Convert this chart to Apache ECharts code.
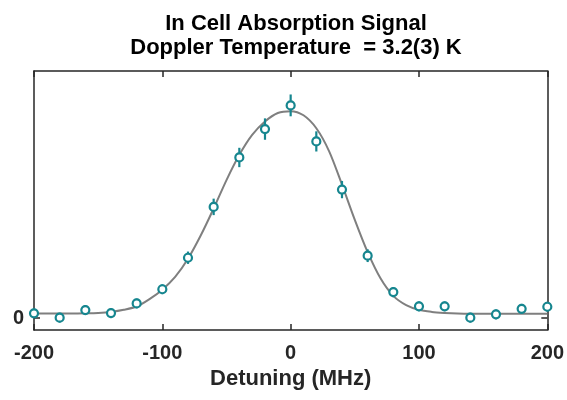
<!DOCTYPE html>
<html><head><meta charset="utf-8">
<script src="https://cdn.jsdelivr.net/npm/echarts@6/dist/echarts.min.js"></script>
<style>html,body{margin:0;padding:0;background:#fff}#c{width:567px;height:400px}</style>
</head><body><div id="c"></div>
<script>
const titleLines = ["In Cell Absorption Signal", "Doppler Temperature  = 3.2(3) K"];
const xAxisName = "Detuning (MHz)";
const xTicks = [-200, -100, 0, 100, 200];
const yTicks = [0];

const dataX = [-200,-180,-160,-140,-120,-100,-80,-60,-40,-20,0,20,40,60,80,100,120,140,160,180,200];
const dataY = [0.023,0.002,0.039,0.024,0.071,0.140,0.293,0.540,0.780,0.918,1.033,0.858,0.624,0.303,0.126,0.057,0.057,0.002,0.018,0.045,0.055];
const dataErr = [0.024,0.024,0.024,0.024,0.024,0.024,0.030,0.040,0.047,0.052,0.053,0.049,0.042,0.031,0.025,0.024,0.024,0.024,0.024,0.024,0.024];

const fitX = [-200,-190,-180,-170,-160,-150,-140,-130,-120,-110,-100,-90,-80,-70,-60,-50,-40,-30,-20,-10,0,10,20,30,40,50,60,70,80,90,100,110,120,130,140,150,160,170,180,190,200];
const fitY = [0.022,0.022,0.022,0.022,0.023,0.025,0.030,0.040,0.056,0.092,0.138,0.200,0.288,0.402,0.532,0.670,0.793,0.890,0.955,0.996,1.005,0.985,0.922,0.810,0.648,0.477,0.320,0.193,0.108,0.063,0.040,0.030,0.025,0.022,0.021,0.021,0.021,0.021,0.021,0.021,0.021];

const teal = '#16868f';
const axisCol = '#262626';
const font = 'Liberation Sans, Arial, sans-serif';

const chart = echarts.init(document.getElementById('c'), null, {renderer:'canvas'});
const pts = dataX.map((x,i)=>[x,dataY[i]]);
const errs = dataX.map((x,i)=>[x,dataY[i]-dataErr[i],dataY[i]+dataErr[i]]);
const fit = fitX.map((x,i)=>[x,fitY[i]]);

const axLine = {show:true, onZero:false, lineStyle:{color:axisCol, width:1.5}};
chart.setOption({
  animation:false,
  title:{
    text: titleLines.join('\n'),
    left: 291, top: 7, textAlign:'center',
    textStyle:{fontFamily:font, fontWeight:'bold', fontSize:22, color:'#000', lineHeight:24}
  },
  grid:{left:34, right:19, top:71, bottom:70},
  xAxis:[
    {type:'value', min:-200, max:200, interval:100, position:'bottom',
     name:xAxisName, nameLocation:'middle', nameGap:38,
     nameTextStyle:{fontFamily:font, fontWeight:'bold', fontSize:22, color:'#262626'},
     axisLine:axLine, axisTick:{show:true, inside:true, length:6, lineStyle:{color:axisCol, width:1.5}},
     axisLabel:{fontFamily:font, fontWeight:'bold', fontSize:20, color:'#262626', margin:13, customValues:xTicks},
     splitLine:{show:false}},
    {type:'value', min:-200, max:200, interval:100, position:'top',
     axisLine:axLine, axisTick:{show:true, inside:true, length:6, lineStyle:{color:axisCol, width:1.5}},
     axisLabel:{show:false}, splitLine:{show:false}}
  ],
  yAxis:[
    {type:'value', min:-0.058, max:1.2, position:'left',
     axisLine:axLine, axisTick:{show:true, inside:true, length:6, customValues:yTicks, lineStyle:{color:axisCol, width:1.5}},
     axisLabel:{fontFamily:font, fontWeight:'bold', fontSize:20, color:'#262626', margin:10, customValues:yTicks},
     splitLine:{show:false}},
    {type:'value', min:-0.058, max:1.2, position:'right',
     axisLine:axLine, axisTick:{show:true, inside:true, length:6, customValues:yTicks, lineStyle:{color:axisCol, width:1.5}},
     axisLabel:{show:false}, splitLine:{show:false}}
  ],
  series:[
    {type:'line', data:fit, smooth:0.3, showSymbol:false, lineStyle:{color:'#7f7f7f', width:2}, z:1},
    {type:'custom', data:errs, z:2,
     renderItem:function(params, api){
       const x = api.value(0);
       const p1 = api.coord([x, api.value(1)]);
       const p2 = api.coord([x, api.value(2)]);
       return {type:'line', shape:{x1:p1[0], y1:p1[1], x2:p2[0], y2:p2[1]}, style:{stroke:teal, lineWidth:2.2}};
     }},
    {type:'scatter', data:pts, symbol:'circle', symbolSize:8, z:3,
     itemStyle:{color:'#fff', borderColor:teal, borderWidth:2.2, opacity:1}}
  ]
});
</script></body></html>
